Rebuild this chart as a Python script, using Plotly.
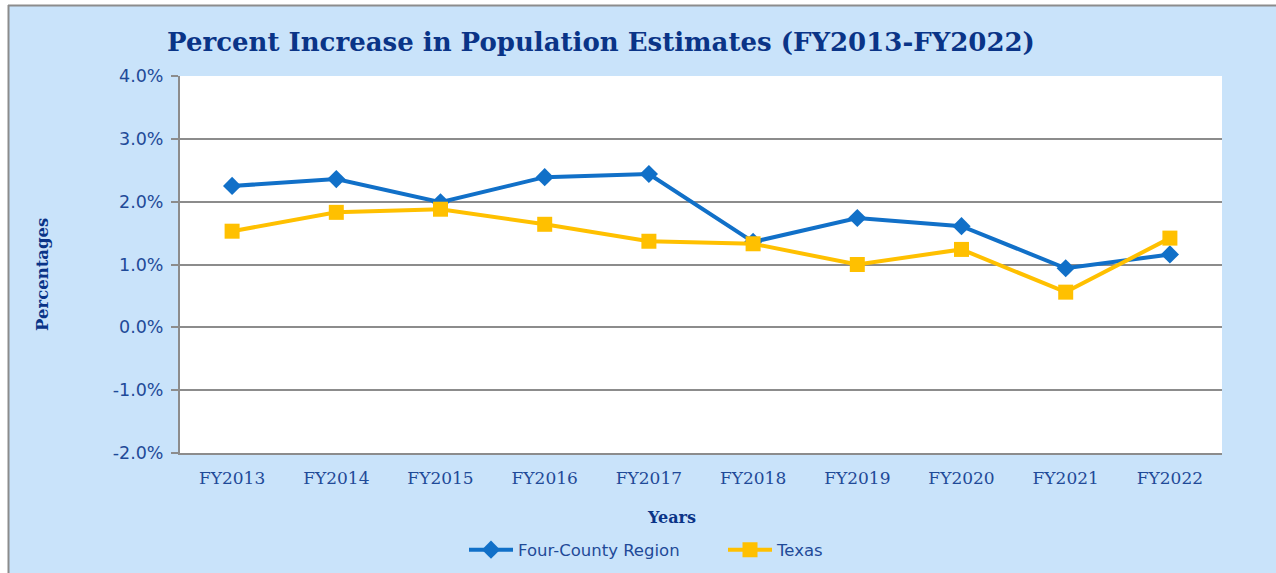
import plotly.graph_objects as go

years = ["FY2013", "FY2014", "FY2015", "FY2016", "FY2017",
         "FY2018", "FY2019", "FY2020", "FY2021", "FY2022"]
four_county = [2.25, 2.36, 1.99, 2.39, 2.44, 1.36, 1.74, 1.61, 0.94, 1.16]
texas = [1.53, 1.83, 1.88, 1.64, 1.37, 1.33, 1.00, 1.24, 0.56, 1.42]
y_ticks = [-2, -1, 0, 1, 2, 3, 4]
y_tick_text = [f"{v:.1f}%" for v in y_ticks]

BLUE = "#1170C8"
YELLOW = "#FFC000"
NAVY = "#0A3487"
TICKC = "#1F4A98"
GRID = "#8C8C8C"
BG = "#C9E3FA"

fig = go.Figure()
fig.add_trace(go.Scatter(
    x=years, y=four_county, name="Four-County Region", mode="lines+markers",
    line=dict(color=BLUE, width=4),
    marker=dict(symbol="diamond", size=14, color=BLUE),
))
fig.add_trace(go.Scatter(
    x=years, y=texas, name="Texas", mode="lines+markers",
    line=dict(color=YELLOW, width=4),
    marker=dict(symbol="square", size=15, color=YELLOW),
))

W, H = 1276, 573
L, R, T, B = 180, 54, 76, 120
pw, ph = W - L - R, H - T - B

def px(xp):
    return (xp - L) / pw

def py(yp):
    return (H - B - yp) / ph

shapes = [
    dict(type="rect", xref="paper", yref="paper", x0=px(-5), x1=px(W + 5),
         y0=py(5), y1=py(-5), fillcolor="white", line=dict(width=0), layer="below"),
    dict(type="rect", xref="paper", yref="paper", x0=px(-5), x1=px(8),
         y0=py(H + 5), y1=py(-5), fillcolor="white", line=dict(width=0), layer="below"),
    dict(type="rect", xref="paper", yref="paper", x0=0, x1=1, y0=0, y1=1,
         fillcolor="white", line=dict(width=0), layer="below"),
    dict(type="line", xref="paper", yref="paper", x0=px(8), x1=px(W + 5),
         y0=py(5.5), y1=py(5.5), line=dict(color=GRID, width=2)),
    dict(type="line", xref="paper", yref="paper", x0=px(8.5), x1=px(8.5),
         y0=py(5), y1=py(H + 5), line=dict(color=GRID, width=2)),
]

fig.update_layout(
    width=W, height=H,
    margin=dict(l=L, r=R, t=T, b=B, autoexpand=False),
    paper_bgcolor=BG,
    plot_bgcolor="rgba(0,0,0,0)",
    shapes=shapes,
    title=dict(
        text="Percent Increase in Population Estimates (FY2013-FY2022)",
        x=601 / W, xanchor="center", xref="container",
        y=1 - 42 / H, yanchor="middle", yref="container",
        font=dict(family="DejaVu Serif", size=26, color=NAVY, weight="bold"),
    ),
    showlegend=True,
    legend=dict(
        orientation="h", x=px(464), xanchor="left", y=py(550), yanchor="middle",
        font=dict(family="DejaVu Sans", size=16.5, color=TICKC),
        bgcolor="rgba(0,0,0,0)", itemwidth=44, tracegroupgap=0,
        entrywidth=200,
    ),
    annotations=[
        dict(text="Years", xref="paper", yref="paper", x=px(671), y=py(517),
             xanchor="center", yanchor="middle", showarrow=False,
             font=dict(family="DejaVu Serif", size=16, color=NAVY, weight="bold")),
        dict(text="Percentages", xref="paper", yref="paper", x=px(42), y=py(275),
             xanchor="center", yanchor="middle", showarrow=False, textangle=-90,
             font=dict(family="DejaVu Serif", size=16.5, color=NAVY, weight="bold")),
    ],
)

fig.update_xaxes(
    type="category", range=[-0.5, len(years) - 0.5],
    showgrid=False, showline=True, linecolor=GRID, linewidth=2,
    ticks="", ticklabelstandoff=9,
    tickfont=dict(family="DejaVu Serif", size=17, color=TICKC),
    zeroline=False,
)
fig.update_yaxes(
    range=[-2, 4], tickmode="array", tickvals=y_ticks, ticktext=y_tick_text,
    showgrid=True, gridcolor=GRID, gridwidth=2,
    showline=True, linecolor=GRID, linewidth=2,
    ticks="outside", ticklen=7, tickcolor=GRID, tickwidth=2, ticklabelstandoff=4,
    tickfont=dict(family="DejaVu Sans", size=17.5, color=TICKC),
    zeroline=False,
)

fig.write_html(
    "out.html",
    config={"displayModeBar": False},
    post_script="document.body.style.margin='0';document.body.style.overflow='hidden';",
)
